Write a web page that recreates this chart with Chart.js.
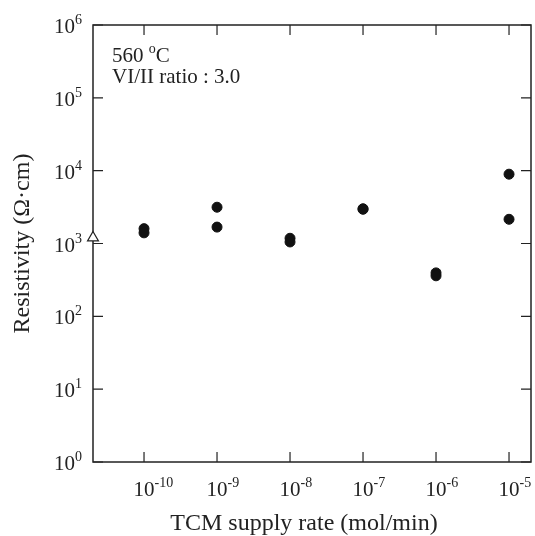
<!DOCTYPE html>
<html>
<head>
<meta charset="utf-8">
<script src="https://cdn.jsdelivr.net/npm/chart.js@4/dist/chart.umd.min.js"></script>
<style>
  html, body { margin: 0; padding: 0; background: #fff; }
  #wrap { width: 535px; height: 536px; }
</style>
</head>
<body>
<div id="wrap"><canvas id="c"></canvas></div>
<script>
// decades shown on each axis (exponents of ten)
const xDecades = [-10, -9, -8, -7, -6, -5];
const yDecades = [0, 1, 2, 3, 4, 5, 6];

// filled circles: TCM supply rate vs resistivity
const supplyRate = [1e-10, 1e-10, 1e-9, 1e-9, 1e-8, 1e-8, 1e-7, 1e-7, 1e-6, 1e-6, 1e-5, 1e-5];
const resistivity = [1600, 1400, 3150, 1680, 1180, 1050, 3000, 2950, 395, 360, 8950, 2150];

// open triangle sitting on the left axis (no TCM)
const refRate = [2e-11];
const refResistivity = [1200];

const xTitle = "TCM supply rate (mol/min)";
const yTitle = "Resistivity (Ω·cm)";
const noteTemp = "560";
const noteUnit = "C";
const noteRatio = "VI/II ratio : 3.0";

const FONT = '"Liberation Serif", "Times New Roman", serif';
const ink = "#222";

function drawPow(ctx, exp, x, y, align) {
  const base = "10", sup = String(exp);
  ctx.font = `21px ${FONT}`;
  const wb = ctx.measureText(base).width;
  ctx.font = `14px ${FONT}`;
  const ws = ctx.measureText(sup).width;
  const x0 = align === "right" ? x - wb - ws : x - wb / 2;
  ctx.font = `21px ${FONT}`;
  ctx.fillText(base, x0, y);
  ctx.font = `14px ${FONT}`;
  ctx.fillText(sup, x0 + wb, y - 9);
}

const frame = {
  id: "frame",
  beforeDatasetsDraw(chart) {
    const { ctx, chartArea: a, scales: { x, y } } = chart;
    ctx.save();
    ctx.strokeStyle = ink;
    ctx.lineWidth = 1.5;
    ctx.strokeRect(a.left, a.top, a.right - a.left, a.bottom - a.top);
    ctx.lineWidth = 1.2;
    ctx.beginPath();
    for (const t of x.ticks) {
      const px = x.getPixelForValue(t.value);
      ctx.moveTo(px, a.bottom); ctx.lineTo(px, a.bottom - 10);
      ctx.moveTo(px, a.top); ctx.lineTo(px, a.top + 10);
    }
    for (const t of y.ticks) {
      const py = y.getPixelForValue(t.value);
      ctx.moveTo(a.left, py); ctx.lineTo(a.left + 10, py);
      ctx.moveTo(a.right, py); ctx.lineTo(a.right - 10, py);
    }
    ctx.stroke();
    ctx.restore();
  },
  afterDraw(chart) {
    const { ctx, chartArea: a, scales: { x, y } } = chart;
    ctx.save();
    ctx.fillStyle = ink;
    ctx.textBaseline = "alphabetic";
    ctx.textAlign = "left";
    for (const t of x.ticks) {
      const e = Math.round(Math.log10(t.value));
      drawPow(ctx, e, x.getPixelForValue(t.value), a.bottom + 34, "center");
    }
    for (const t of y.ticks) {
      const e = Math.round(Math.log10(t.value));
      drawPow(ctx, e, a.left - 11, y.getPixelForValue(t.value) + 8, "right");
    }
    // note in the upper left corner
    let nx = a.left + 19;
    ctx.font = `21px ${FONT}`;
    ctx.fillText(noteTemp + " ", nx, 62);
    nx += ctx.measureText(noteTemp + " ").width;
    ctx.font = `14px ${FONT}`;
    ctx.fillText("o", nx, 53);
    nx += ctx.measureText("o").width;
    ctx.font = `21px ${FONT}`;
    ctx.fillText(noteUnit, nx, 62);
    ctx.fillText(noteRatio, a.left + 19, 83);
    // x axis title, sits a little left of the plot centre in the original
    ctx.font = `24px ${FONT}`;
    ctx.textAlign = "center";
    ctx.fillText(xTitle, (a.left + a.right) / 2 - 8, 530);
    ctx.restore();
  }
};

new Chart(document.getElementById("c"), {
  type: "scatter",
  data: {
    datasets: [
      {
        data: supplyRate.map((v, i) => ({ x: v, y: resistivity[i] })),
        pointStyle: "circle",
        pointRadius: 5,
        borderWidth: 1,
        backgroundColor: "#111",
        borderColor: "#111",
        clip: false
      },
      {
        data: refRate.map((v, i) => ({ x: v, y: refResistivity[i] })),
        pointStyle: "triangle",
        pointRadius: 6.3,
        borderWidth: 1.2,
        backgroundColor: "#fff",
        borderColor: ink,
        clip: false
      }
    ]
  },
  options: {
    responsive: true,
    maintainAspectRatio: false,
    animation: false,
    layout: { autoPadding: false, padding: { top: 25, right: 4, left: 0, bottom: 0 } },
    plugins: { legend: { display: false }, tooltip: { enabled: false } },
    scales: {
      x: {
        type: "logarithmic",
        position: "bottom",
        min: 2e-11,
        max: 2e-5,
        grid: { display: false },
        border: { display: false },
        ticks: { display: false },
        afterBuildTicks: (s) => { s.ticks = xDecades.map((e) => ({ value: Math.pow(10, e) })); },
        afterFit: (s) => { s.height = 74; }
      },
      y: {
        type: "logarithmic",
        position: "left",
        min: 1,
        max: 1e6,
        grid: { display: false },
        border: { display: false },
        ticks: { display: false },
        afterBuildTicks: (s) => { s.ticks = yDecades.map((e) => ({ value: Math.pow(10, e) })); },
        afterFit: (s) => { s.width = 93; },
        title: {
          display: true,
          text: yTitle,
          color: ink,
          font: { family: FONT, size: 24 },
          padding: { top: 8, bottom: 0 }
        }
      }
    }
  },
  plugins: [frame]
});
</script>
</body>
</html>
